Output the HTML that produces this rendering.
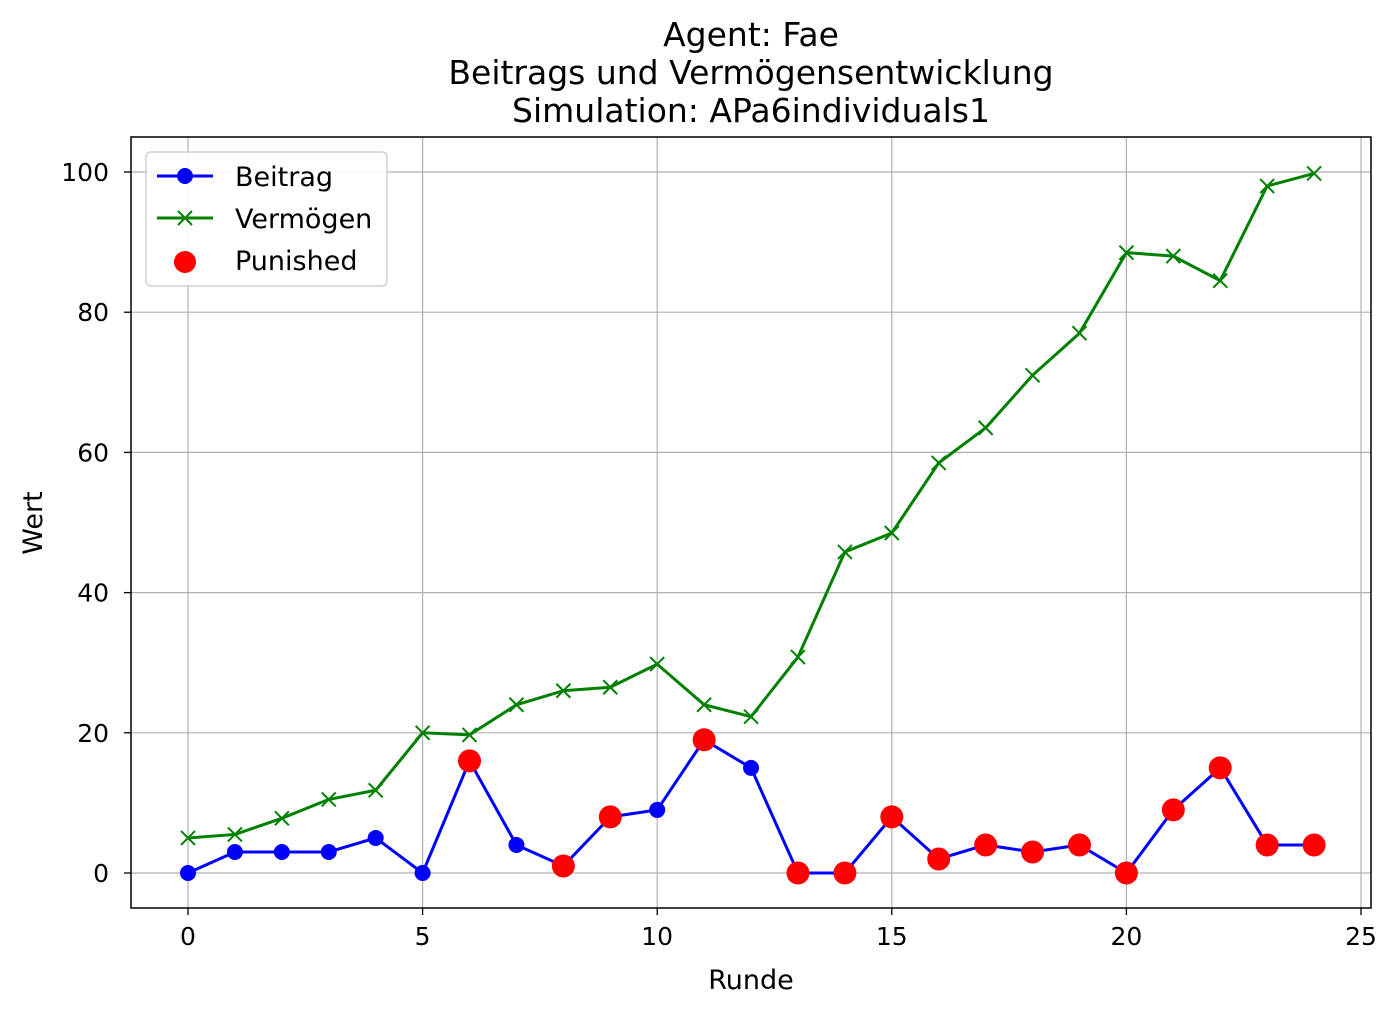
<!DOCTYPE html>
<html><head><meta charset="utf-8"><style>
body{margin:0;background:#fff}
svg{display:block;font-family:"DejaVu Sans","Liberation Sans",sans-serif}
</style></head><body>
<svg id="chart" width="1399" height="1015" xmlns="http://www.w3.org/2000/svg">
<rect width="1399" height="1015" fill="#fff"/>
<g id="grid"></g>
<g id="ticks"></g>
<g id="series"></g>
<rect x="131" y="137" width="1240" height="771" fill="none" stroke="#000" stroke-width="1.5"/>
<text x="751" y="46" font-size="33" text-anchor="middle">Agent: Fae</text>
<text x="751" y="84" font-size="33" text-anchor="middle">Beitrags und Vermögensentwicklung</text>
<text x="751" y="122" font-size="33" text-anchor="middle">Simulation: APa6individuals1</text>
<text x="751" y="989" font-size="27" text-anchor="middle">Runde</text>
<text x="42" y="523" font-size="27" text-anchor="middle" transform="rotate(-90 42 523)">Wert</text>
<g>
<rect x="146" y="152" width="241" height="134" rx="5" fill="#fff" stroke="#ccc" stroke-width="1.5" opacity="0.9"/>
<g>
<line x1="157" y1="176" x2="213" y2="176" stroke="blue" stroke-width="3"/><circle cx="185" cy="176" r="8" fill="blue"/>
<text x="235" y="186" font-size="27">Beitrag</text></g>
<g>
<line x1="157" y1="218" x2="213" y2="218" stroke="green" stroke-width="3"/><path d="M178 211L192 225M192 211L178 225" stroke="green" stroke-width="2"/>
<text x="235" y="228" font-size="27">Vermögen</text></g>
<g>
<circle cx="185" cy="262" r="11" fill="red"/>
<text x="235" y="270" font-size="27">Punished</text></g>
</g>
</svg>
<script>
const rounds=[0,1,2,3,4,5,6,7,8,9,10,11,12,13,14,15,16,17,18,19,20,21,22,23,24];
const beitrag=[0,3,3,3,5,0,16,4,1,8,9,19,15,0,0,8,2,4,3,4,0,9,15,4,4];
const vermoegen=[5,5.5,7.8,10.5,11.8,20,19.7,24,26,26.5,29.8,24,22.3,30.8,45.8,48.5,58.5,63.5,71,77,88.5,88,84.5,98,99.8];
const punishedRounds=[6,8,9,11,13,14,15,16,17,18,19,20,21,22,23,24];
const xTicks=[0,5,10,15,20,25];
const yTicks=[0,20,40,60,80,100];
const NS="http://www.w3.org/2000/svg";
const xs=v=>188+v*(1361-188)/25;
const ys=v=>873-v*(873-172)/100;
function mk(tag,attrs,parent){const e=document.createElementNS(NS,tag);for(const k in attrs)e.setAttribute(k,attrs[k]);parent.appendChild(e);return e;}
const grid=document.getElementById('grid'),ticks=document.getElementById('ticks'),series=document.getElementById('series');
xTicks.forEach(t=>{const x=xs(t);
 const g=mk('line',{x1:x,x2:x,y1:137,y2:908,stroke:'#b0b0b0','stroke-width':1.2},grid);
 
 
 mk('line',{x1:x,x2:x,y1:908,y2:915,stroke:'#000','stroke-width':1.3},ticks);
 const l=mk('text',{x:x,y:945,'font-size':25,'text-anchor':'middle'},ticks);l.textContent=t;
 
 });
yTicks.forEach(t=>{const y=ys(t);
 const g=mk('line',{x1:131,x2:1371,y1:y,y2:y,stroke:'#b0b0b0','stroke-width':1.2},grid);
 
 
 mk('line',{x1:124,x2:131,y1:y,y2:y,stroke:'#000','stroke-width':1.3},ticks);
 const l=mk('text',{x:109,y:y+9,'font-size':25,'text-anchor':'end'},ticks);l.textContent=t;
 
 });
const pb=mk('polyline',{points:rounds.map((r,i)=>xs(r)+','+ys(beitrag[i])).join(' '),fill:'none',stroke:'blue','stroke-width':3},series);


rounds.forEach((r,i)=>{const c=mk('circle',{cx:xs(r),cy:ys(beitrag[i]),r:8,fill:'blue'},series);
 
 });
const pv=mk('polyline',{points:rounds.map((r,i)=>xs(r)+','+ys(vermoegen[i])).join(' '),fill:'none',stroke:'green','stroke-width':3},series);


rounds.forEach((r,i)=>{const x=xs(r),y=ys(vermoegen[i]);
 const m=mk('path',{d:`M${x-7} ${y-7}L${x+7} ${y+7}M${x+7} ${y-7}L${x-7} ${y+7}`,stroke:'green','stroke-width':2},series);
 
 });
punishedRounds.forEach(r=>{const c=mk('circle',{cx:xs(r),cy:ys(beitrag[r]),r:11.5,fill:'red'},series);
 
 });
</script>
</body></html>
